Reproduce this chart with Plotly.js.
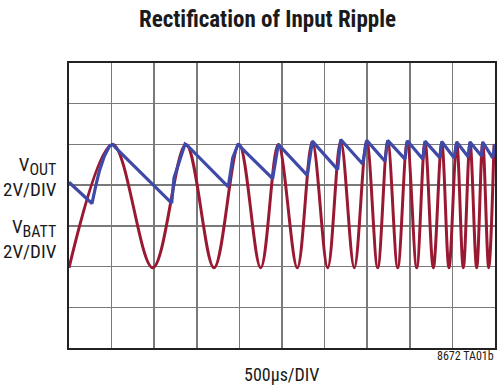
<!DOCTYPE html>
<html>
<head>
<meta charset="utf-8">
<script src="https://cdn.plot.ly/plotly-3.0.1.min.js"></script>
<style>
html,body{margin:0;padding:0;background:#fff;}
#chart{width:504px;height:391px;}
</style>
</head>
<body>
<div id="chart"></div>
<script>
// VOUT trace (divisions: x = time div, y = vertical div from bottom)
const voutX = [0, 0.54, 0.634, 0.711, 0.829, 0.946, 1.026, 1.103,
  2.41, 2.465, 2.566, 2.723, 2.8,
  3.739, 3.843, 3.974, 4.054,
  4.78, 4.913, 5.594, 5.711, 6.307, 6.378, 6.894, 6.988,
  7.418, 7.481, 7.887, 7.941, 8.303, 8.357, 8.709, 8.749,
  9.038, 9.101, 9.373, 9.413, 9.688, 9.711, 9.946, 10.0];
const voutY = [4.07, 3.55, 4.01, 4.34, 4.71, 4.95, 5.0, 4.91,
  3.56, 4.18, 4.5, 5.01, 4.95,
  3.96, 4.67, 5.02, 4.91,
  4.16, 5.0, 4.24, 5.08, 4.38, 5.12, 4.52, 5.1,
  4.585, 5.1, 4.64, 5.09, 4.64, 5.08, 4.67, 5.07,
  4.67, 5.06, 4.69, 5.06, 4.71, 5.06, 4.67, 5.01];

// VBATT trace extrema (alternating minima / peaks)
const vbattX = [0, 1.025, 1.965, 2.746, 3.404, 3.991, 4.5, 4.913, 5.359, 5.711,
  6.073, 6.378, 6.697, 6.988, 7.246, 7.481, 7.716, 7.94, 8.162, 8.357,
  8.552, 8.749, 8.92, 9.1, 9.256, 9.413, 9.57, 9.711, 9.852, 9.977];
const vbattY = [1.97, 5.0, 1.97, 5.0, 1.97, 5.0, 1.97, 5.0, 1.97, 5.06,
  1.97, 5.08, 1.97, 5.07, 1.97, 5.07, 1.97, 5.06, 1.97, 5.05,
  1.97, 5.04, 1.97, 5.04, 1.97, 5.04, 1.97, 5.04, 1.97, 5.0];

const titleText = "Rectification of Input Ripple";
const xLabel = "500µs/DIV";
const figId = "8672 TA01b";
const chNames = ["OUT", "BATT"];
const chScale = "2V/DIV";

const W = 504, H = 391, L = 69, R = 495, T = 63, B = 348;
const px = v => (v - L) / (R - L);
const py = v => (B - v) / (B - T);
const FONT = "Liberation Sans Narrow, Arial Narrow, Roboto Condensed, Liberation Sans, sans-serif";

const traces = [
  {x: vbattX, y: vbattY, mode: "lines", line: {color: "#9a1932", width: 3, shape: "spline", smoothing: 1}, hoverinfo: "skip"},
  {x: voutX, y: voutY, mode: "lines", line: {color: "#3f4aa8", width: 3.2}, hoverinfo: "skip"}
];

const ann = (text, x, y, size, opts = {}) => Object.assign({
  text: text, xref: "paper", yref: "paper", x: px(x), y: py(y),
  showarrow: false, font: {family: FONT, size: size, color: "#1a1a1a"},
  xanchor: "center", yanchor: "middle"
}, opts);

const chLabel = name => "V<sub><span style='font-size:16px'>" + name + "</span></sub><br>" + chScale;

const layout = {
  width: W, height: H,
  margin: {l: L, r: W - R, t: T, b: H - B},
  paper_bgcolor: "#fff", plot_bgcolor: "#fff",
  showlegend: false,
  xaxis: {range: [0, 10], dtick: 1, tick0: 0, showticklabels: false, ticks: "",
    showgrid: true, gridcolor: "#7a7a7a", gridwidth: 1.5, zeroline: false,
    showline: true, mirror: true, linecolor: "#222", linewidth: 2, fixedrange: true},
  yaxis: {range: [0, 7], dtick: 1, tick0: 0, showticklabels: false, ticks: "",
    showgrid: true, gridcolor: "#7a7a7a", gridwidth: 1.5, zeroline: false,
    showline: true, mirror: true, linecolor: "#222", linewidth: 2, fixedrange: true},
  annotations: [
    ann("<b>" + titleText + "</b>", 267, 20, 23),
    ann(xLabel, 281, 374, 18),
    ann(figId, 496, 356, 12, {xanchor: "right"}),
    ann(chLabel(chNames[0]), 59, 177, 19, {xanchor: "right", align: "right"}),
    ann(chLabel(chNames[1]), 59, 239, 19, {xanchor: "right", align: "right"})
  ]
};

Plotly.newPlot("chart", traces, layout, {staticPlot: true, displayModeBar: false});
</script>
</body>
</html>
